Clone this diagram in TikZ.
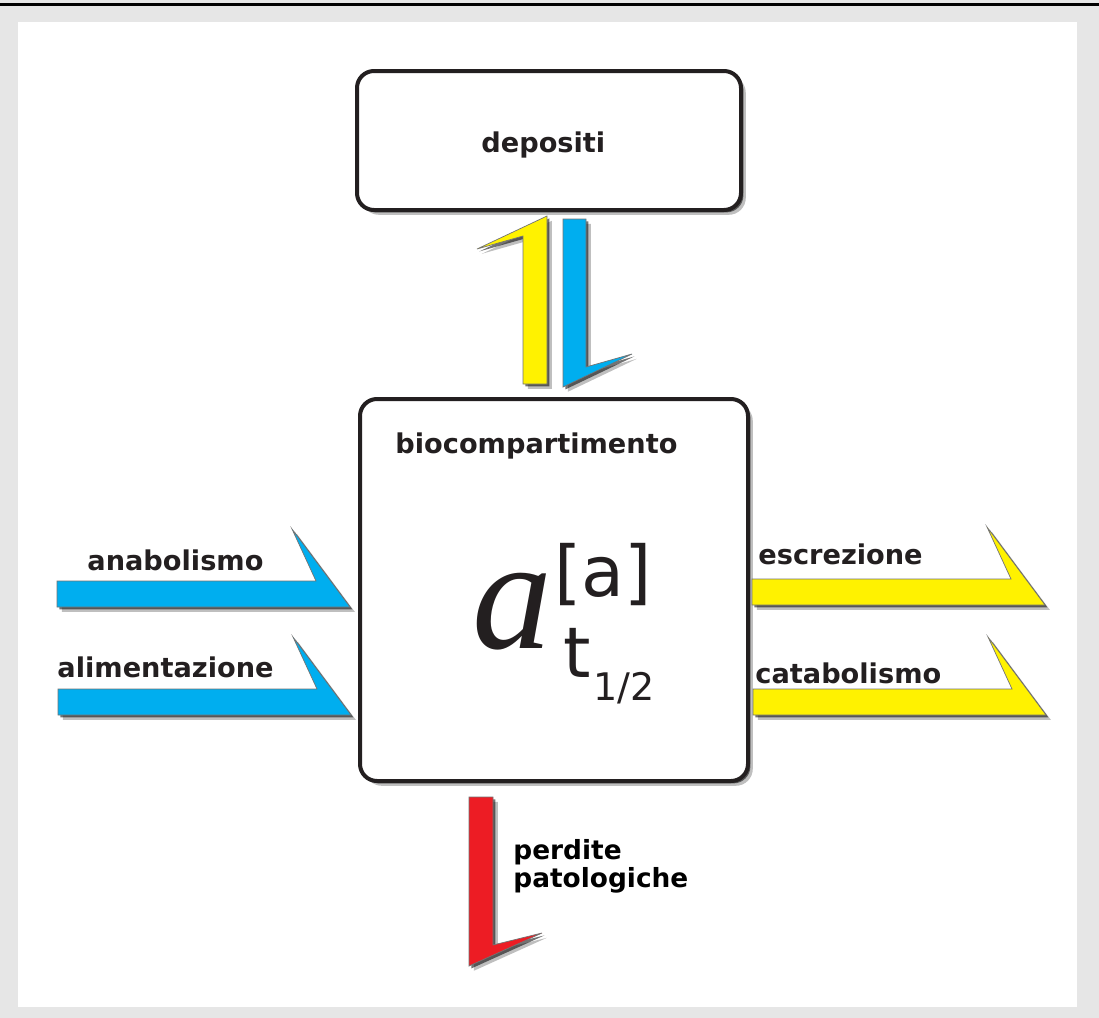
\documentclass[tikz,border=0pt]{standalone}
\usepackage{fontspec}
\setmainfont{DejaVu Sans}
\newfontfamily\bigserif{Liberation Serif}
\usetikzlibrary{shadows,positioning}
\definecolor{ink}{HTML}{231F20}
\definecolor{flowblue}{HTML}{00AEEF}
\definecolor{flowyellow}{HTML}{FFF200}
\definecolor{flowred}{HTML}{ED1C24}
\definecolor{framegray}{HTML}{E6E6E6}

\begin{document}
\begin{tikzpicture}[
  x=0.5pt, y=-0.5pt,
  soft shadow/.style = {drop shadow={shadow xshift=1.2pt, shadow yshift=-1.2pt,
                                     opacity=.55, fill=black},
                        drop shadow={shadow xshift=2.4pt, shadow yshift=-2.4pt,
                                     opacity=.25, fill=black}},
  box/.style    = {draw=ink, line width=2pt, rounded corners=8.5pt, fill=white,
                   inner sep=0pt, soft shadow},
  flow/.style   = {draw=black!55, line width=0.35pt, soft shadow},
  lbl/.style    = {font=\bfseries\fontsize{13.6}{16}\selectfont, text=ink,
                   inner sep=0pt, anchor=base west},
  conc/.style   = {text=ink, inner sep=0pt, anchor=base west},
]
% frame
\useasboundingbox[fill=framegray] (0,0) rectangle (1099,1018);
\fill[black] (0,3) rectangle (1099,6);
\fill[white] (18,22) rectangle (1077,1007);

% boxes
\node[box, minimum width=192pt, minimum height=69.5pt] (depositi) at (549,140.5) {};
\node[lbl] (deplbl) at (481,152) {depositi};
\node[box, minimum width=194pt, minimum height=191pt] (bio) at (554,590) {};
\node[lbl] (biolbl) at (395,453) {biocompartimento};

% a^[a]_t1/2
\node[conc, font=\bigserif\itshape\fontsize{80}{80}\selectfont] (conc-a) at (472,648) {a};
\node[conc, font=\fontsize{35}{35}\selectfont] (conc-sup) at (554,596) {[a]};
\node[conc, font=\fontsize{35}{35}\selectfont] (conc-t) at (563,677) {t};
\node[conc, font=\fontsize{19}{19}\selectfont] (conc-half) at (593,700) {1/2};

% exchange with depositi
\filldraw[flow, fill=flowyellow] (523,384) -- (547,384) -- (547,216) -- (477,249)
     -- (523,236) -- cycle;
\filldraw[flow, fill=flowblue] (563,219) -- (586,219) -- (586,367) -- (632,354)
     -- (563,387) -- cycle;

% inputs and outputs
\foreach \x/\y/\c in {57/581/flowblue, 58/689/flowblue,
                      752/579/flowyellow, 753/689/flowyellow}
  \filldraw[flow, fill=\c] (\x,\y) -- ++(259,0) -- ++(-24,-52) -- ++(58,78)
     -- ++(-293,0) -- cycle;
\filldraw[flow, fill=flowred] (469,797) -- (493,797) -- (493,945) -- (542,933)
     -- (469,966) -- cycle;

% labels
\node[lbl] (anab) at (87,570) {anabolismo};
\node[lbl] (alim) at (57,677) {alimentazione};
\node[lbl] (escr) at (758,564) {escrezione};
\node[lbl] (catab) at (755,683) {catabolismo};
\node[lbl, text=black, font=\bfseries\fontsize{13.2}{15}\selectfont] (perd) at (513,859) {perdite};
\node[lbl, text=black, font=\bfseries\fontsize{13.2}{15}\selectfont] (pato) at (513,887) {patologiche};
\end{tikzpicture}
\end{document}
